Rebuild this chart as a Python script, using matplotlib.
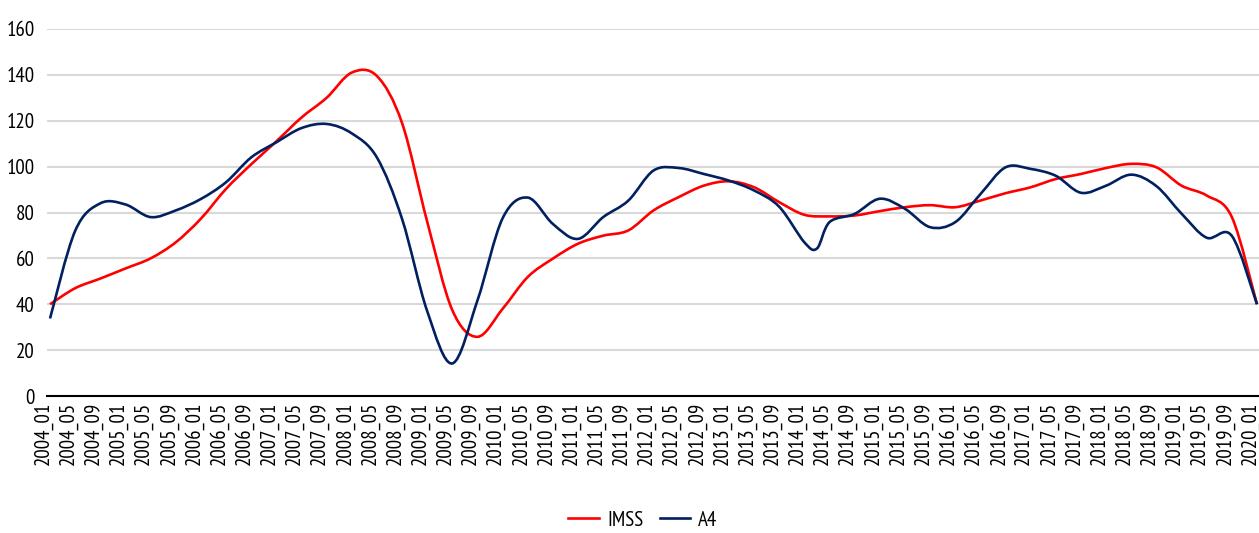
import matplotlib
matplotlib.use("Agg")
import matplotlib.pyplot as plt
import numpy as np
from matplotlib.path import Path
from matplotlib.patches import PathPatch
from matplotlib.lines import Line2D
from matplotlib.transforms import ScaledTranslation

plt.rcParams['font.family'] = ['PT Sans Narrow', 'DejaVu Sans']

# category labels, one every 4 months (x axis counted in months from 2004_01)
tick_months = list(range(0, 193, 4))
tick_labels = ["%d_%02d" % (2004 + m // 12, m % 12 + 1) for m in tick_months]

imss_months = list(range(0, 193, 4))
imss = [40, 47, 51.2, 55.6, 60, 67, 77.3, 90.3, 101, 111,
        121.4, 130, 141, 139.5, 119, 76, 37.4, 25.8, 38, 51.9,
        59.9, 66.4, 69.9, 72.2, 80.9, 86.7, 91.7, 93.6, 91, 84.5,
        79, 78.3, 78.7, 80.6, 82.3, 83.2, 82.3, 85.2, 88.4, 91,
        94.6, 96.8, 99.4, 101.2, 99.7, 91.7, 87.4, 78, 40]

a4_months = list(range(0, 121, 4)) + [122] + list(range(124, 193, 4))
a4 = [33.8, 72, 84, 83.5, 78, 80.9, 85.9, 93.2, 104, 110.6,
      116.8, 118.6, 114.5, 104, 77.2, 37, 14.2, 41.7, 77.5, 86.5,
      75, 68.5, 78, 85.2, 98.3, 99.4, 96.8, 93.9, 89.6, 82.5,
      67, 64.3, 75.8, 79.4, 86, 81.6, 73.6, 75.8, 88, 99.7,
      99, 96, 88.6, 91.7, 96.5, 91.5, 79.5, 69, 69.8, 40]


def smooth_path(xs, ys):
    # smoothed line like Excel: cubic bezier through every point
    p = np.column_stack([xs, ys]).astype(float)
    n = len(p)
    verts = [p[0]]
    codes = [Path.MOVETO]
    for i in range(n - 1):
        p0 = p[i - 1] if i > 0 else p[i]
        p3 = p[i + 2] if i + 2 < n else p[i + 1]
        c1 = p[i] + (p[i + 1] - p0) / 6.0
        c2 = p[i + 1] - (p3 - p[i]) / 6.0
        verts += [c1, c2, p[i + 1]]
        codes += [Path.CURVE4] * 3
    return Path(verts, codes)


fig = plt.figure(figsize=(12.59, 5.33), dpi=100)
ax = fig.add_axes([47 / 1259, (533 - 396) / 533, 1 - 47 / 1259, (396 - 29) / 533])

red = '#FF0000'
navy = '#002060'
ax.add_patch(PathPatch(smooth_path(imss_months, imss), fill=False, edgecolor=red, lw=1.9, zorder=3))
ax.add_patch(PathPatch(smooth_path(a4_months, a4), fill=False, edgecolor=navy, lw=1.9, zorder=4))

ax.set_xlim(-0.48, 192.32)
ax.set_ylim(0, 160)
ax.set_yticks(range(0, 161, 20))
ax.yaxis.grid(True, color='#D9D9D9', lw=1.5)
ax.set_axisbelow(True)
for s in ['top', 'right', 'left']:
    ax.spines[s].set_visible(False)
ax.spines['bottom'].set_color('black')
ax.spines['bottom'].set_linewidth(1.5)
ax.spines['bottom'].set_zorder(5)

ax.set_xticks(tick_months)
ax.set_xticklabels(tick_labels, rotation=90)
ax.tick_params(axis='x', length=0, pad=4, labelsize=15)
ax.tick_params(axis='y', length=0, pad=9, labelsize=15)
# labels sit a few pixels left of their category, as in the original
shift = ScaledTranslation(-7 / 100, 0, fig.dpi_scale_trans)
for lab in ax.get_xticklabels():
    lab.set_transform(lab.get_transform() + shift)

handles = [Line2D([], [], color=red, lw=1.9), Line2D([], [], color=navy, lw=1.9)]
fig.legend(handles, ['IMSS', 'A4'], loc='center', bbox_to_anchor=(643 / 1259, 1 - 520 / 533),
           ncol=2, frameon=False, fontsize=15, handlelength=1.45, handletextpad=0.4,
           columnspacing=0.8)

fig.savefig('out.png', dpi=100)
